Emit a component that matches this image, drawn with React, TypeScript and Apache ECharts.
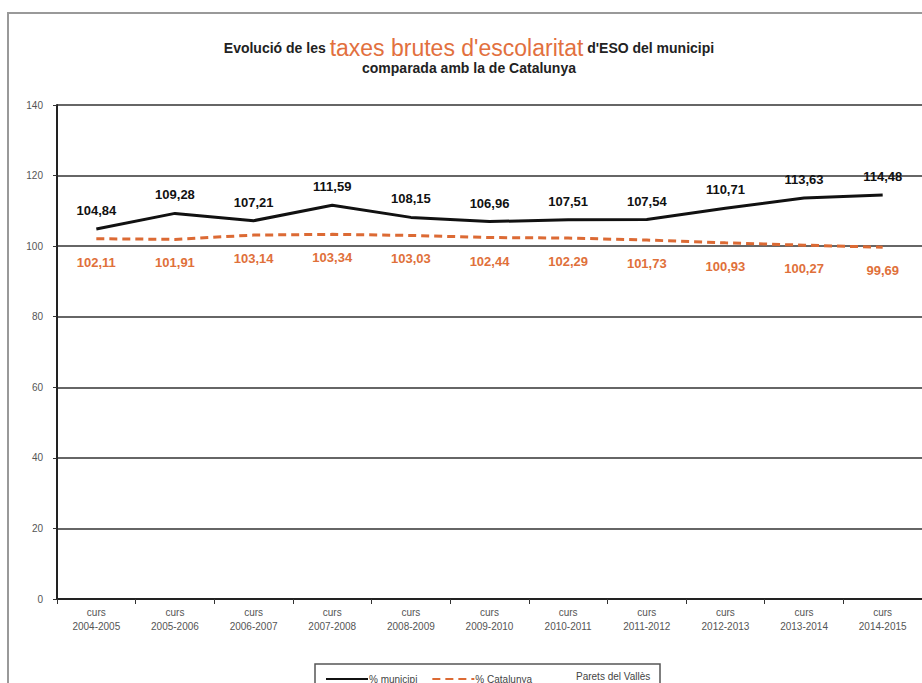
import React, { useEffect, useRef } from "react";
import * as echarts from "echarts";

const categories = [
  "curs\n2004-2005", "curs\n2005-2006", "curs\n2006-2007", "curs\n2007-2008",
  "curs\n2008-2009", "curs\n2009-2010", "curs\n2010-2011", "curs\n2011-2012",
  "curs\n2012-2013", "curs\n2013-2014", "curs\n2014-2015",
];
const municipi = [104.84, 109.28, 107.21, 111.59, 108.15, 106.96, 107.51, 107.54, 110.71, 113.63, 114.48];
const catalunya = [102.11, 101.91, 103.14, 103.34, 103.03, 102.44, 102.29, 101.73, 100.93, 100.27, 99.69];
const seriesNames = ["% municipi", "% Catalunya"];
const townLabel = "Parets del Vallès";

const FONT = "'Liberation Sans', Arial, sans-serif";
const fmt = (p: any) => Number(p.value).toFixed(2).replace(".", ",");

export default function App() {
  const ref = useRef<HTMLDivElement>(null);
  useEffect(() => {
    if (!ref.current) return;
    const chart = echarts.init(ref.current, undefined, { renderer: "svg" });
    chart.setOption({
      animation: false,
      backgroundColor: "#ffffff",
      textStyle: { fontFamily: FONT },
      grid: { left: 57, right: -3, top: 105, bottom: 84, containLabel: false },
      xAxis: {
        type: "category",
        data: categories,
        boundaryGap: true,
        axisLine: { lineStyle: { color: "#222", width: 2 } },
        axisTick: { show: true, length: 5, lineStyle: { color: "#333" } },
        axisLabel: { color: "#555", fontSize: 10, lineHeight: 14, margin: 6, fontFamily: FONT, interval: 0 },
      },
      yAxis: {
        type: "value",
        min: 0,
        max: 140,
        interval: 20,
        axisLine: { show: true, lineStyle: { color: "#222", width: 2 } },
        axisTick: { show: true, length: 4, lineStyle: { color: "#333" } },
        axisLabel: { color: "#555", fontSize: 10, margin: 14, fontFamily: FONT },
        splitLine: { lineStyle: { color: "#333", width: 1.5 } },
      },
      legend: {
        data: seriesNames,
        left: 320,
        top: 669,
        itemWidth: 42,
        itemHeight: 10,
        itemGap: 14,
        itemStyle: { opacity: 0 },
        textStyle: { color: "#444", fontSize: 10, fontFamily: FONT, padding: [0, 0, 0, -4] },
        selectedMode: false,
      },
      graphic: [
        {
          type: "rect",
          shape: { x: 8, y: 13, width: 1200, height: 1200 },
          style: { fill: "none", stroke: "#999", lineWidth: 2 },
          silent: true,
        },
        {
          type: "rect",
          shape: { x: 315, y: 664, width: 345, height: 30 },
          style: { fill: "none", stroke: "#555", lineWidth: 1.5 },
          silent: true,
        },
        {
          type: "text",
          x: 576,
          y: 671,
          style: { text: townLabel, fill: "#444", fontSize: 10, fontFamily: FONT },
          silent: true,
        },
        {
          type: "text",
          x: 469,
          y: 48,
          style: {
            text: "{a|Evolució de les }{b|taxes brutes d'escolaritat}{a| d'ESO del municipi}",
            align: "center",
            verticalAlign: "middle",
            rich: {
              a: { fontSize: 14, fontWeight: "bold", fill: "#222", fontFamily: FONT, lineHeight: 20 },
              b: { fontSize: 23, fill: "#e2703e", fontFamily: FONT, lineHeight: 20 },
            },
          },
          silent: true,
        },
        {
          type: "text",
          x: 469,
          y: 68,
          style: {
            text: "comparada amb la de Catalunya",
            align: "center",
            verticalAlign: "middle",
            fontSize: 14,
            fontWeight: "bold",
            fill: "#222",
            fontFamily: FONT,
            lineHeight: 15,
          },
          silent: true,
        },
      ],
      series: [
        {
          name: seriesNames[0],
          type: "line",
          data: municipi,
          symbol: "circle",
          symbolSize: 0,
          showSymbol: true,
          lineStyle: { color: "#111", width: 3 },
          itemStyle: { color: "#111" },
          label: {
            show: true,
            position: "top",
            distance: 12,
            formatter: fmt,
            color: "#111",
            fontSize: 13,
            fontWeight: "bold",
            fontFamily: FONT,
          },
          z: 3,
        },
        {
          name: seriesNames[1],
          type: "line",
          data: catalunya,
          symbol: "circle",
          symbolSize: 0,
          showSymbol: true,
          lineStyle: { color: "#dc6a34", width: 3, type: [8, 5] },
          itemStyle: { color: "#dc6a34" },
          label: {
            show: true,
            position: "bottom",
            distance: 17,
            formatter: fmt,
            color: "#e0703a",
            fontSize: 13,
            fontWeight: "bold",
            fontFamily: FONT,
          },
          z: 2,
        },
      ],
    });
    return () => chart.dispose();
  }, []);
  return <div ref={ref} style={{ position: "fixed", left: 0, top: 0, width: 922, height: 683 }} />;
}
